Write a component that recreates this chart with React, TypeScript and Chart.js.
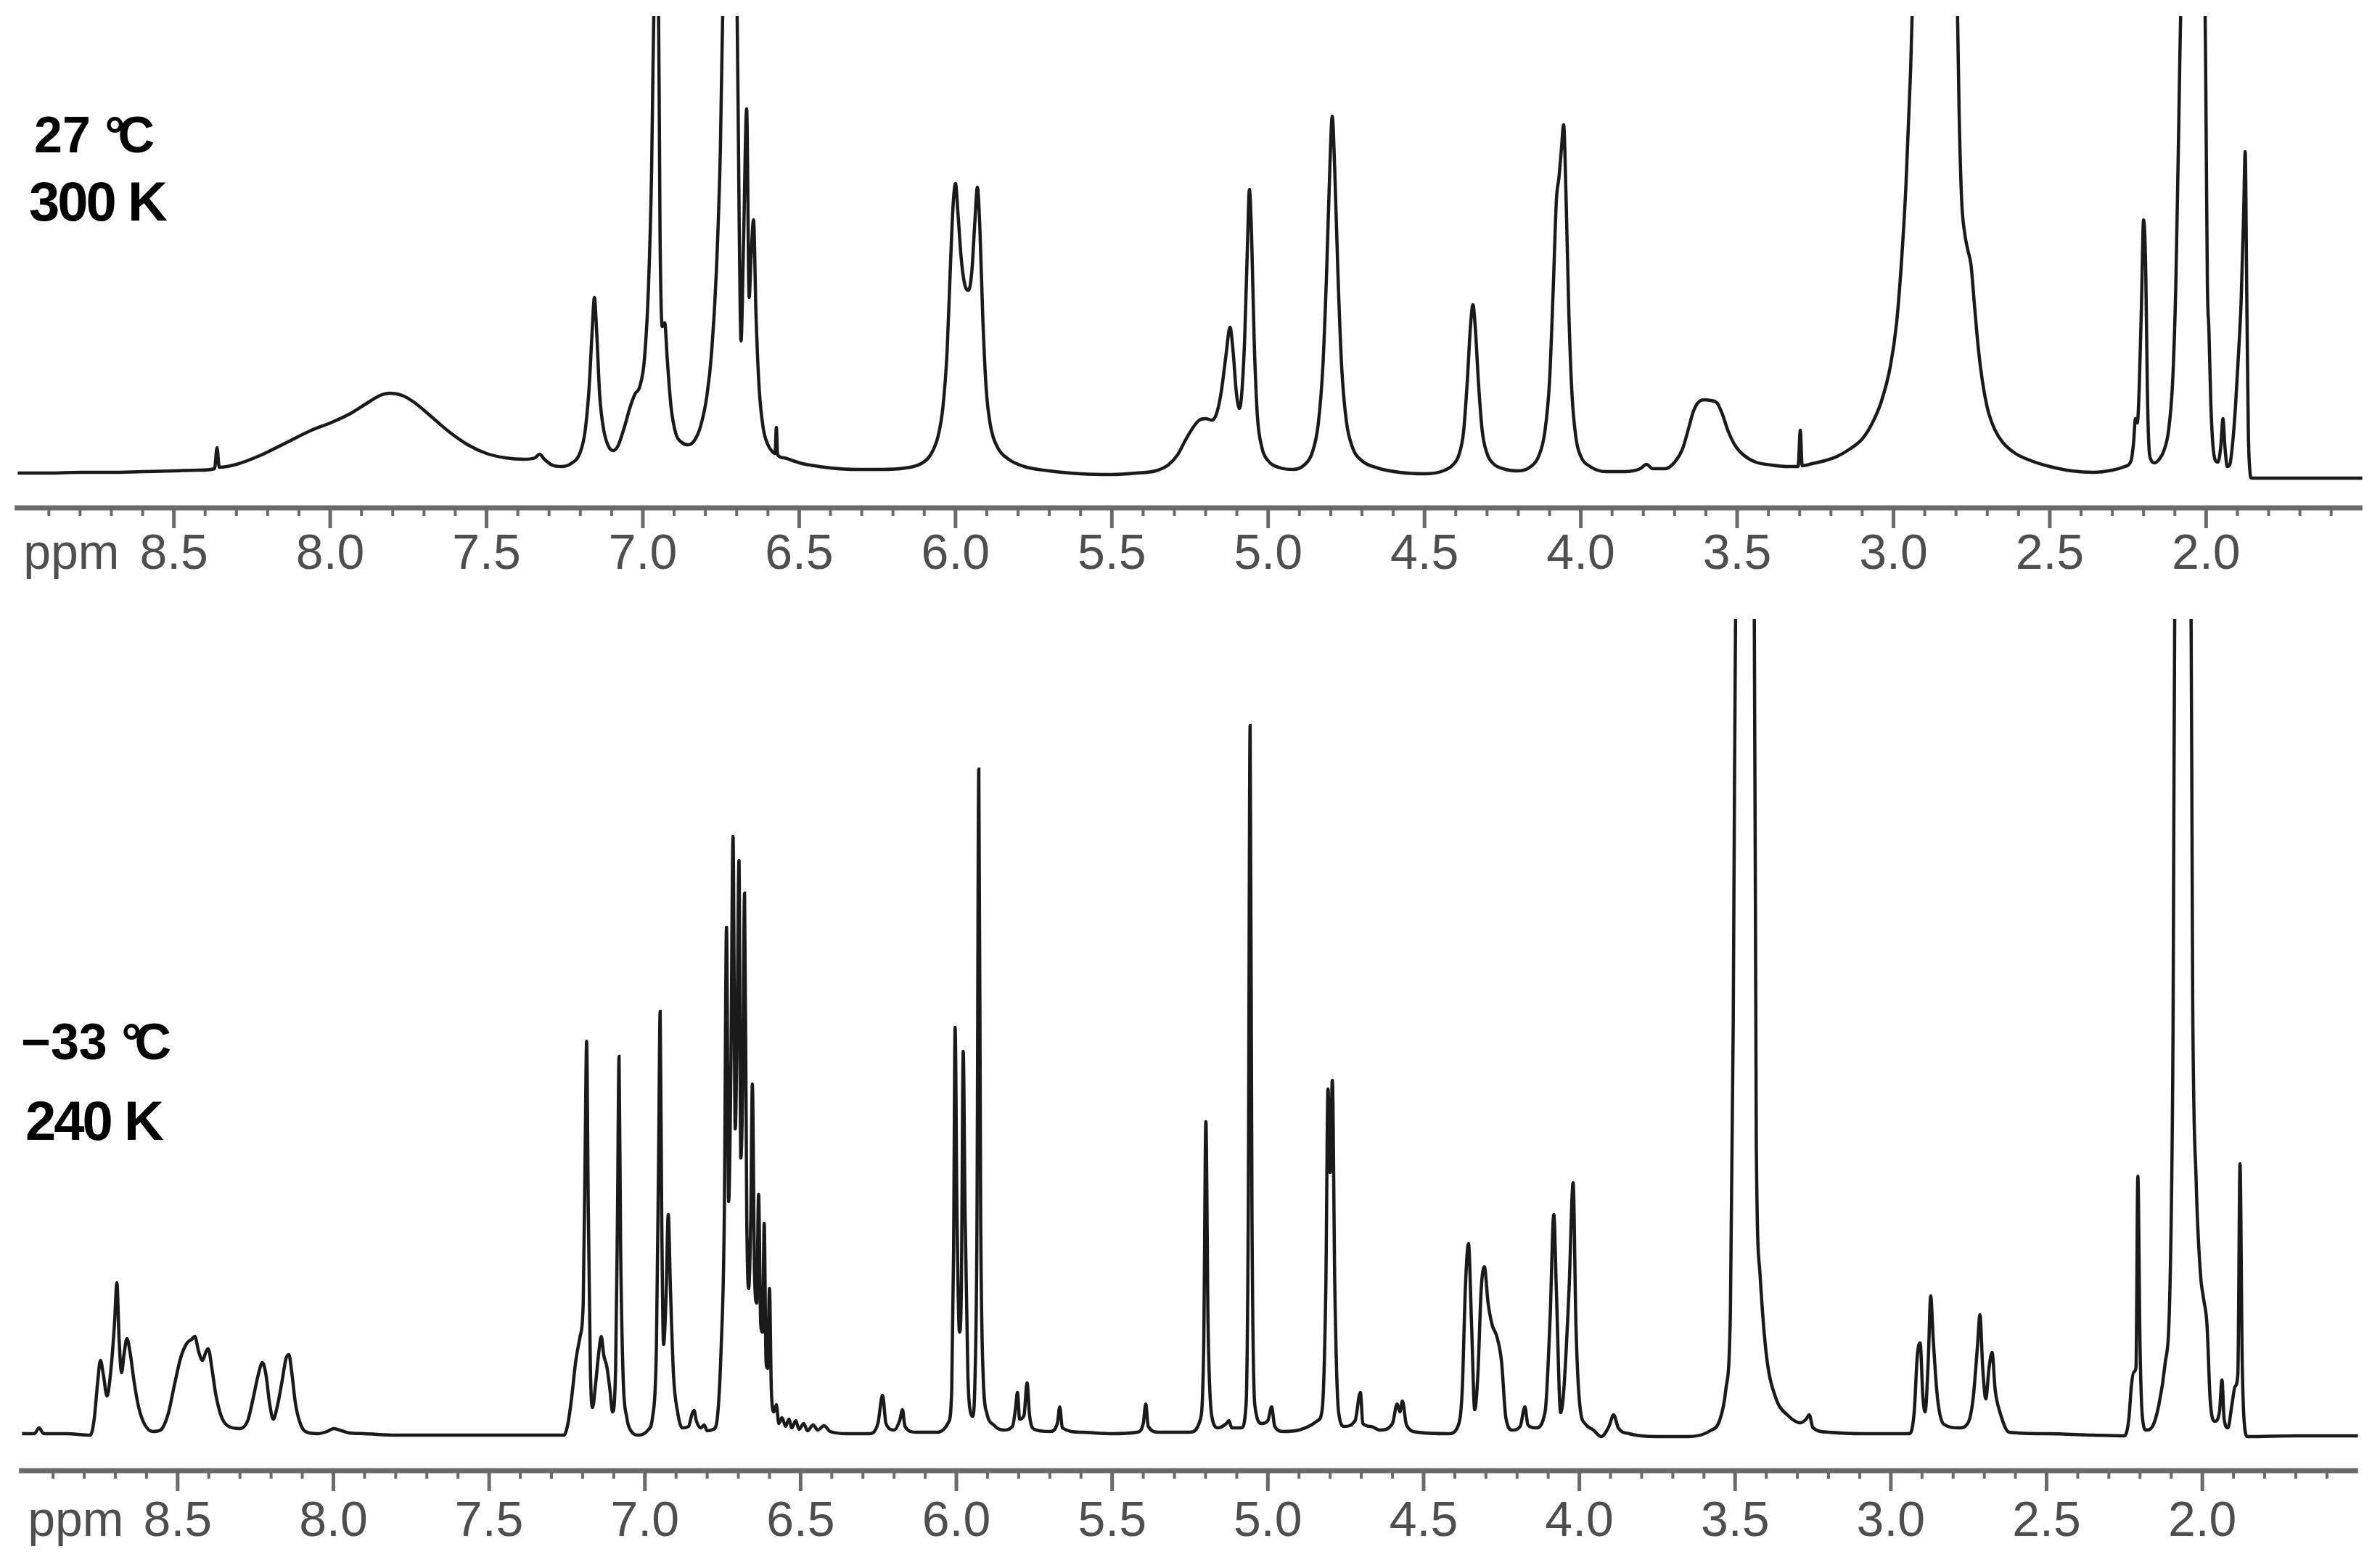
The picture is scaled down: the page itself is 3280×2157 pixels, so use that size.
import React, { useEffect, useRef } from 'react';
import { Chart, registerables } from 'chart.js';

Chart.register(...registerables);

// ---- axis -------------------------------------------------------------
const PPM_MIN = 1.5;
const PPM_MAX = 9.0;
const TICK_VALUES = [8.5, 8.0, 7.5, 7.0, 6.5, 6.0, 5.5, 5.0, 4.5, 4.0, 3.5, 3.0, 2.5, 2.0];
const TICK_LABELS = ['8.5', '8.0', '7.5', '7.0', '6.5', '6.0', '5.5', '5.0', '4.5', '4.0', '3.5', '3.0', '2.5', '2.0'];
const AXIS_UNIT = 'ppm';

// ---- labels -----------------------------------------------------------
const TOP_TEMP_C = '27 ';
const TOP_TEMP_K = '300 K';
const BOTTOM_TEMP_C = '\u221233 ';
const BOTTOM_TEMP_K = '240 K';

// ---- spectra: [chemical shift (ppm), intensity (arbitrary)] ------------
const TOP_300K: [number, number][] = [
  [9.0, 3], [8.9, 3], [8.8, 4], [8.7, 4], [8.6, 5], [8.5, 6], [8.42, 7], [8.37, 9], [8.362, 38], [8.355, 11],
  [8.3, 15], [8.22, 28], [8.14, 45], [8.06, 62], [8.0, 72], [7.94, 84], [7.88, 100], [7.84, 110], [7.81, 113],
  [7.77, 110], [7.73, 100], [7.68, 82], [7.62, 60], [7.56, 42], [7.5, 30], [7.44, 24], [7.38, 22], [7.345, 24],
  [7.33, 29], [7.315, 22], [7.29, 14], [7.26, 12], [7.23, 16], [7.2, 32], [7.185, 60], [7.172, 120], [7.162, 200],
  [7.155, 245], [7.148, 200], [7.138, 110], [7.125, 62], [7.11, 40], [7.095, 34], [7.08, 40], [7.06, 65],
  [7.04, 95], [7.025, 112], [7.01, 122], [6.995, 160], [6.982, 260], [6.972, 420], [6.962, 720], [6.952, 760],
  [6.945, 330], [6.938, 205], [6.93, 210], [6.922, 160], [6.91, 95], [6.895, 58], [6.875, 45], [6.855, 42],
  [6.835, 48], [6.815, 68], [6.795, 110], [6.78, 170], [6.765, 280], [6.752, 450], [6.742, 700], [6.73, 760],
  [6.72, 700], [6.71, 760], [6.7, 700], [6.692, 350], [6.686, 185], [6.678, 320], [6.668, 505], [6.66, 245],
  [6.654, 300], [6.646, 352], [6.638, 220], [6.628, 120], [6.615, 65], [6.6, 42], [6.585, 32], [6.577, 30],
  [6.573, 66], [6.569, 28], [6.55, 24], [6.52, 20], [6.49, 16], [6.45, 13], [6.4, 10], [6.32, 8], [6.24, 8],
  [6.16, 10], [6.11, 16], [6.08, 28], [6.055, 55], [6.04, 95], [6.027, 170], [6.017, 280], [6.008, 370],
  [6.0, 402], [5.992, 360], [5.982, 300], [5.97, 262], [5.958, 255], [5.948, 280], [5.938, 350], [5.93, 397],
  [5.922, 340], [5.913, 220], [5.902, 120], [5.888, 68], [5.865, 38], [5.83, 22], [5.78, 12], [5.7, 6],
  [5.6, 2], [5.5, 1], [5.42, 3], [5.36, 6], [5.32, 14], [5.29, 28], [5.265, 48], [5.24, 66], [5.22, 76],
  [5.2, 78], [5.18, 76], [5.165, 85], [5.15, 115], [5.135, 165], [5.122, 204], [5.112, 170], [5.102, 115],
  [5.092, 92], [5.085, 110], [5.075, 190], [5.066, 320], [5.06, 394], [5.053, 330], [5.045, 190], [5.035, 85],
  [5.02, 38], [5.0, 20], [4.96, 10], [4.92, 8], [4.885, 14], [4.86, 30], [4.84, 70], [4.825, 150], [4.813, 280],
  [4.803, 420], [4.795, 495], [4.787, 420], [4.777, 280], [4.765, 150], [4.75, 75], [4.73, 38], [4.7, 20],
  [4.65, 10], [4.58, 4], [4.5, 2], [4.44, 6], [4.41, 14], [4.39, 28], [4.375, 60], [4.363, 130], [4.353, 205],
  [4.345, 235], [4.337, 200], [4.327, 125], [4.315, 60], [4.3, 30], [4.28, 16], [4.24, 8], [4.2, 6], [4.16, 12],
  [4.135, 26], [4.115, 60], [4.1, 130], [4.088, 260], [4.078, 380], [4.07, 410], [4.062, 450], [4.055, 483],
  [4.047, 380], [4.038, 220], [4.028, 110], [4.015, 50], [4.0, 26], [3.97, 12], [3.92, 5], [3.86, 5], [3.81, 9],
  [3.79, 15], [3.77, 9], [3.73, 9], [3.7, 18], [3.675, 36], [3.655, 65], [3.64, 88], [3.625, 100], [3.605, 104],
  [3.585, 103], [3.565, 100], [3.548, 85], [3.528, 60], [3.505, 40], [3.48, 28], [3.44, 18], [3.39, 14],
  [3.34, 12], [3.305, 12], [3.298, 62], [3.292, 13], [3.26, 16], [3.22, 20], [3.18, 26], [3.14, 36], [3.1, 50],
  [3.07, 70], [3.04, 100], [3.01, 150], [2.99, 210], [2.975, 290], [2.96, 400], [2.945, 560], [2.932, 760],
  [2.9, 950], [2.86, 1000], [2.82, 950], [2.8, 760], [2.79, 500], [2.782, 380], [2.772, 333], [2.762, 310],
  [2.752, 290], [2.742, 240], [2.732, 190], [2.722, 150], [2.71, 115], [2.695, 85], [2.675, 62], [2.65, 45],
  [2.61, 30], [2.56, 20], [2.5, 12], [2.43, 6], [2.36, 4], [2.3, 7], [2.26, 12], [2.24, 20], [2.232, 45],
  [2.226, 78], [2.22, 72], [2.214, 120], [2.207, 230], [2.2, 352], [2.193, 280], [2.188, 120], [2.183, 40],
  [2.177, 22], [2.165, 17], [2.15, 22], [2.135, 34], [2.12, 62], [2.107, 130], [2.097, 260], [2.088, 470],
  [2.076, 760], [2.04, 950], [2.006, 760], [2.0, 480], [1.996, 266], [1.991, 200], [1.985, 100], [1.978, 40],
  [1.97, 20], [1.962, 18], [1.953, 40], [1.946, 78], [1.94, 40], [1.932, 12], [1.924, 15], [1.915, 45],
  [1.906, 95], [1.896, 170], [1.888, 240], [1.88, 360], [1.875, 446], [1.87, 250], [1.865, 60], [1.86, 6],
  [1.855, -4], [1.8, -4], [1.7, -4], [1.6, -4], [1.5, -4],
];

const BOTTOM_240K: [number, number][] = [
  [9.0, 0], [8.96, 0], [8.945, 8], [8.93, 0], [8.86, 0], [8.78, -2], [8.768, 20], [8.757, 70], [8.748, 101],
  [8.738, 80], [8.727, 52], [8.715, 85], [8.703, 150], [8.695, 208], [8.688, 130], [8.68, 84], [8.672, 110],
  [8.663, 131], [8.652, 110], [8.64, 72], [8.625, 36], [8.605, 12], [8.58, 3], [8.555, 5], [8.53, 28],
  [8.51, 68], [8.49, 105], [8.47, 125], [8.455, 130], [8.445, 134], [8.432, 112], [8.42, 101], [8.41, 112],
  [8.402, 117], [8.39, 90], [8.378, 55], [8.36, 24], [8.34, 11], [8.3, 7], [8.275, 18], [8.258, 48],
  [8.242, 80], [8.228, 98], [8.216, 80], [8.205, 42], [8.193, 20], [8.18, 38], [8.165, 72], [8.152, 104],
  [8.143, 109], [8.133, 82], [8.122, 42], [8.108, 16], [8.09, 3], [8.05, 0], [8.02, 3], [8.0, 7], [7.98, 5],
  [7.95, 1], [7.9, 0], [7.8, -2], [7.6, -2], [7.4, -2], [7.26, -2], [7.247, 14], [7.235, 50], [7.222, 100],
  [7.208, 134], [7.198, 180], [7.192, 380], [7.187, 541], [7.182, 320], [7.175, 90], [7.168, 36], [7.158, 70],
  [7.148, 112], [7.14, 134], [7.132, 108], [7.122, 92], [7.112, 60], [7.104, 30], [7.094, 90], [7.088, 300],
  [7.083, 520], [7.078, 260], [7.07, 80], [7.058, 22], [7.045, 4], [7.02, -2], [6.99, 5], [6.975, 24],
  [6.963, 120], [6.956, 380], [6.951, 582], [6.946, 300], [6.94, 123], [6.932, 190], [6.925, 302], [6.918, 200],
  [6.908, 80], [6.895, 30], [6.88, 8], [6.86, 10], [6.848, 28], [6.842, 32], [6.835, 18], [6.82, 8], [6.81, 12],
  [6.8, 4], [6.78, 6], [6.77, 14], [6.755, 120], [6.745, 300], [6.738, 698], [6.731, 320], [6.724, 500],
  [6.717, 823], [6.71, 420], [6.704, 560], [6.698, 790], [6.692, 380], [6.686, 480], [6.68, 745], [6.673, 300],
  [6.667, 200], [6.66, 300], [6.655, 482], [6.648, 220], [6.641, 180], [6.635, 330], [6.628, 150], [6.622, 140],
  [6.617, 290], [6.611, 100], [6.606, 90], [6.6, 200], [6.594, 60], [6.586, 30], [6.578, 40], [6.57, 14],
  [6.56, 22], [6.548, 10], [6.538, 20], [6.528, 8], [6.516, 18], [6.505, 6], [6.49, 14], [6.478, 4], [6.46, 12],
  [6.445, 5], [6.425, 11], [6.405, 3], [6.35, 0], [6.28, 0], [6.252, 14], [6.237, 53], [6.226, 14], [6.2, 5],
  [6.182, 18], [6.173, 33], [6.165, 10], [6.13, 2], [6.06, 2], [6.025, 16], [6.015, 60], [6.009, 250],
  [6.004, 560], [5.998, 300], [5.99, 140], [5.984, 200], [5.978, 527], [5.972, 300], [5.963, 80], [5.955, 30],
  [5.948, 24], [5.94, 80], [5.934, 280], [5.928, 916], [5.922, 300], [5.914, 80], [5.902, 28], [5.88, 12],
  [5.85, 5], [5.82, 10], [5.81, 35], [5.804, 57], [5.797, 20], [5.783, 25], [5.773, 70], [5.765, 25], [5.75, 6],
  [5.7, 3], [5.676, 14], [5.668, 37], [5.66, 8], [5.6, 2], [5.5, 0], [5.42, 2], [5.4, 14], [5.392, 41],
  [5.384, 10], [5.35, 2], [5.25, 2], [5.218, 18], [5.206, 120], [5.199, 430], [5.192, 150], [5.18, 24],
  [5.16, 8], [5.133, 14], [5.125, 18], [5.116, 8], [5.085, 8], [5.07, 40], [5.063, 300], [5.057, 976],
  [5.051, 300], [5.042, 40], [5.02, 14], [5.0, 18], [4.988, 37], [4.978, 10], [4.95, 3], [4.9, 5], [4.86, 12],
  [4.84, 18], [4.826, 32], [4.814, 200], [4.807, 475], [4.8, 360], [4.793, 487], [4.785, 200], [4.773, 30],
  [4.755, 10], [4.72, 18], [4.703, 57], [4.695, 14], [4.67, 10], [4.64, 5], [4.6, 14], [4.585, 41], [4.576, 30],
  [4.568, 45], [4.555, 12], [4.52, 2], [4.42, 0], [4.39, 10], [4.376, 60], [4.366, 200], [4.356, 262],
  [4.346, 150], [4.336, 33], [4.326, 80], [4.315, 200], [4.305, 230], [4.293, 180], [4.28, 150], [4.265, 134],
  [4.25, 100], [4.236, 22], [4.215, 5], [4.19, 10], [4.175, 37], [4.165, 12], [4.14, 8], [4.11, 30], [4.094, 158],
  [4.082, 302], [4.074, 200], [4.06, 29], [4.05, 60], [4.033, 200], [4.02, 346], [4.011, 150], [3.998, 37],
  [3.98, 13], [3.955, 5], [3.93, -4], [3.905, 10], [3.89, 26], [3.875, 8], [3.84, 0], [3.75, -4], [3.65, -4],
  [3.58, 4], [3.55, 18], [3.53, 60], [3.515, 170], [3.506, 567], [3.496, 1300], [3.47, 1500], [3.44, 1300],
  [3.432, 400], [3.42, 220], [3.4, 110], [3.37, 50], [3.33, 25], [3.29, 15], [3.272, 20], [3.262, 26],
  [3.25, 8], [3.2, 2], [3.1, 0], [2.94, 0], [2.925, 30], [2.915, 108], [2.906, 125], [2.897, 50], [2.89, 30],
  [2.88, 100], [2.872, 190], [2.864, 130], [2.85, 48], [2.83, 13], [2.78, 8], [2.752, 15], [2.736, 48],
  [2.722, 120], [2.714, 164], [2.705, 90], [2.695, 48], [2.685, 90], [2.675, 112], [2.665, 60], [2.65, 30],
  [2.62, 2], [2.5, 0], [2.35, -2], [2.25, -3], [2.236, 20], [2.228, 65], [2.22, 85], [2.213, 91], [2.207, 355],
  [2.2, 120], [2.192, 21], [2.18, 5], [2.16, 10], [2.14, 39], [2.12, 95], [2.104, 200], [2.094, 560],
  [2.087, 1300], [2.063, 1500], [2.038, 1300], [2.031, 600], [2.02, 350], [2.006, 220], [1.996, 186],
  [1.985, 150], [1.975, 48], [1.96, 17], [1.945, 30], [1.937, 74], [1.93, 20], [1.918, 8], [1.905, 40],
  [1.895, 65], [1.886, 82], [1.879, 372], [1.872, 100], [1.865, 13], [1.855, -4], [1.7, -3], [1.5, -3],
];

// ---- styling ----------------------------------------------------------
const LINE_COLOR = '#1a1a1a';
const AXIS_COLOR = '#6a6a6a';
const TICK_TEXT_COLOR = '#4e4e4e';
const TICK_FONT_FAMILY = "'Liberation Sans Narrow', 'Liberation Sans', Arial, sans-serif";
const TICK_FONT_SIZE = 68;

function tickLabel(value: number): string {
  for (let i = 0; i < TICK_VALUES.length; i++) {
    if (Math.abs(TICK_VALUES[i] - value) < 1e-6) return TICK_LABELS[i];
  }
  return '';
}

function axisPlugin(id: string, labelOffset: number) {
  return {
    id,
    afterDraw(chart: any) {
      const xs = chart.scales.x;
      const ctx = chart.ctx as CanvasRenderingContext2D;
      const y0 = chart.chartArea.bottom;
      ctx.save();
      ctx.strokeStyle = AXIS_COLOR;
      ctx.lineCap = 'butt';
      ctx.lineWidth = 7;
      ctx.beginPath();
      ctx.moveTo(xs.getPixelForValue(PPM_MAX) - 4, y0);
      ctx.lineTo(xs.getPixelForValue(PPM_MIN), y0);
      ctx.stroke();
      for (let i = 16; i <= 89; i++) {
        const major = i % 5 === 0;
        const px = xs.getPixelForValue(i / 10);
        ctx.lineWidth = major ? 5 : 4;
        ctx.beginPath();
        ctx.moveTo(px, y0);
        ctx.lineTo(px, y0 + (major ? 28 : 11));
        ctx.stroke();
      }
      ctx.fillStyle = TICK_TEXT_COLOR;
      ctx.font = `${TICK_FONT_SIZE}px ${TICK_FONT_FAMILY}`;
      ctx.textAlign = 'left';
      ctx.textBaseline = 'middle';
      ctx.fillText(AXIS_UNIT, xs.getPixelForValue(PPM_MAX) + 8, y0 + labelOffset);
      ctx.restore();
    },
  };
}

function buildConfig(
  spectrum: [number, number][],
  yMin: number,
  yMax: number,
  padTop: number,
  labelOffset: number,
  id: string
): any {
  return {
    type: 'line',
    data: {
      datasets: [
        {
          data: spectrum.map(([x, y]) => ({ x, y })),
          borderColor: LINE_COLOR,
          borderWidth: 4.5,
          pointRadius: 0,
          fill: false,
          cubicInterpolationMode: 'monotone',
          clip: 0,
        },
      ],
    },
    options: {
      animation: false,
      responsive: false,
      devicePixelRatio: 1,
      events: [],
      layout: { padding: { left: 17, right: 14, top: padTop, bottom: 20 }, autoPadding: false },
      plugins: { legend: { display: false }, tooltip: { enabled: false }, title: { display: false } },
      scales: {
        x: {
          type: 'linear',
          reverse: true,
          min: PPM_MIN,
          max: PPM_MAX,
          afterFit: (s: any) => {
            s.height = 110;
          },
          grid: { display: false, drawTicks: false },
          border: { display: false },
          ticks: {
            stepSize: 0.5,
            autoSkip: false,
            maxRotation: 0,
            minRotation: 0,
            padding: labelOffset - (TICK_FONT_SIZE * 1.2) / 2,
            color: TICK_TEXT_COLOR,
            font: { family: TICK_FONT_FAMILY, size: TICK_FONT_SIZE },
            callback: (v: any) => tickLabel(Number(v)),
          },
        },
        y: { display: false, min: yMin, max: yMax },
      },
    },
    plugins: [axisPlugin(id, labelOffset)],
  };
}

const tempStyle = (left: number, top: number, size: number, spacing: number): React.CSSProperties => ({
  position: 'absolute',
  left,
  top,
  fontFamily: "'Liberation Sans', Arial, sans-serif",
  fontWeight: 'bold',
  fontSize: size,
  lineHeight: 1,
  letterSpacing: spacing,
  color: '#000',
  whiteSpace: 'nowrap',
});

export default function App() {
  const topRef = useRef<HTMLCanvasElement>(null);
  const botRef = useRef<HTMLCanvasElement>(null);

  useEffect(() => {
    document.body.style.margin = '0';
    document.body.style.overflow = 'hidden';
    const c1 = new Chart(topRef.current as HTMLCanvasElement, buildConfig(TOP_300K, -45, 633, 22, 65, 'axisTop'));
    const c2 = new Chart(botRef.current as HTMLCanvasElement, buildConfig(BOTTOM_240K, -51, 1123, 23, 71, 'axisBottom'));
    return () => {
      c1.destroy();
      c2.destroy();
    };
  }, []);

  return (
    <div style={{ position: 'relative', width: 3280, height: 2157, background: '#fff', overflow: 'hidden' }}>
      <canvas ref={topRef} width={3280} height={830} style={{ position: 'absolute', left: 0, top: 0, width: 3280, height: 830 }} />
      <canvas ref={botRef} width={3280} height={1327} style={{ position: 'absolute', left: 0, top: 830, width: 3280, height: 1327 }} />
      <div style={tempStyle(47, 151, 70, 0)}>
        {TOP_TEMP_C}
        <span style={{ letterSpacing: '-0.14em' }}>°</span>C
      </div>
      <div style={tempStyle(40, 240, 76, -3)}>{TOP_TEMP_K}</div>
      <div style={tempStyle(29, 1401, 70, 0)}>
        {BOTTOM_TEMP_C}
        <span style={{ letterSpacing: '-0.14em' }}>°</span>C
      </div>
      <div style={tempStyle(35, 1507, 76, -3)}>{BOTTOM_TEMP_K}</div>
    </div>
  );
}
